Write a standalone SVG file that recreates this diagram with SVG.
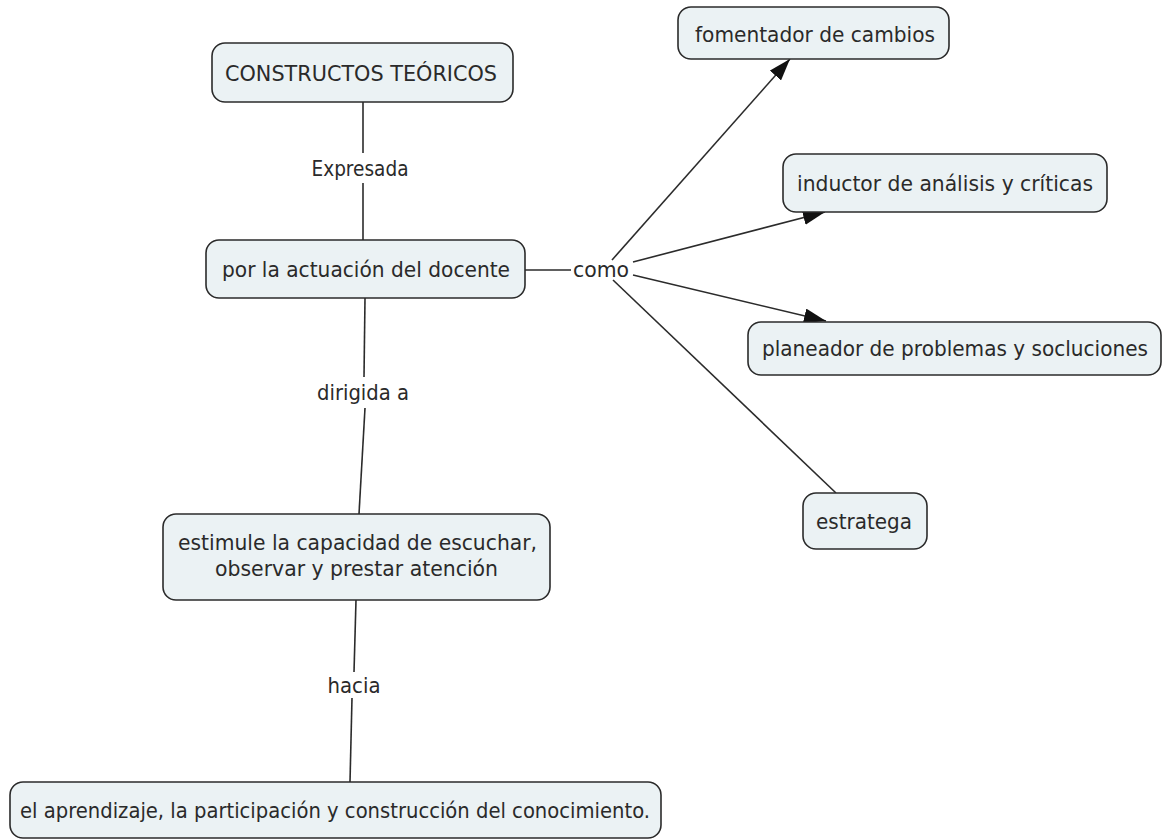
<svg xmlns="http://www.w3.org/2000/svg" width="1163" height="839" viewBox="0 0 1163 839">
<defs>
<style>
.box{fill:#ebf2f4;stroke:#2b2b2b;stroke-width:1.6}
.t{font-family:"DejaVu Sans",Verdana,sans-serif;font-size:21.5px;fill:#2a2a2a;text-anchor:middle}
.s{font-size:20.5px}
.c{stroke:#2b2b2b;stroke-width:1.6;fill:none}
</style>
<marker id="arr" viewBox="0 0 22 15" refX="22" refY="7.5" markerWidth="22" markerHeight="15" markerUnits="userSpaceOnUse" orient="auto">
<path d="M0,0 L22,7.5 L0,15 Z" fill="#111"/>
</marker>
</defs>
<rect width="1163" height="839" fill="#ffffff"/>
<g id="connectors">
<line class="c" x1="363" y1="102" x2="363" y2="153"/>
<line class="c" x1="363" y1="183" x2="363" y2="240"/>
<line class="c" x1="365" y1="298" x2="364" y2="377"/>
<line class="c" x1="365" y1="408" x2="359" y2="514"/>
<line class="c" x1="356" y1="600" x2="354" y2="672"/>
<line class="c" x1="352" y1="698" x2="350" y2="782"/>
<line class="c" x1="525" y1="270" x2="571" y2="270"/>
<line class="c" x1="612" y1="260" x2="790" y2="59" marker-end="url(#arr)"/>
<line class="c" x1="633" y1="262" x2="825" y2="212" marker-end="url(#arr)"/>
<line class="c" x1="633" y1="275" x2="826" y2="321" marker-end="url(#arr)"/>
<line class="c" x1="613" y1="280" x2="836" y2="493"/>
<text class="t" x="360" y="176" textLength="97" lengthAdjust="spacingAndGlyphs">Expresada</text>
<text class="t" x="601" y="277" textLength="56" lengthAdjust="spacingAndGlyphs">como</text>
<text class="t" x="363" y="400" textLength="92" lengthAdjust="spacingAndGlyphs">dirigida a</text>
<text class="t" x="354" y="693" textLength="53" lengthAdjust="spacingAndGlyphs">hacia</text>
</g>
<g id="n1">
<rect class="box" x="212" y="43" width="301" height="59" rx="13"/>
<text class="t" x="361" y="81" textLength="272" lengthAdjust="spacingAndGlyphs">CONSTRUCTOS TEÓRICOS</text>
</g>
<g id="n2">
<rect class="box" x="206" y="240" width="319" height="58" rx="13"/>
<text class="t" x="366" y="277" textLength="288" lengthAdjust="spacingAndGlyphs">por la actuación del docente</text>
</g>
<g id="n3">
<rect class="box" x="678" y="7" width="271" height="52" rx="13"/>
<text class="t" x="815" y="42" textLength="240" lengthAdjust="spacingAndGlyphs">fomentador de cambios</text>
</g>
<g id="n4">
<rect class="box" x="783" y="154" width="324" height="58" rx="13"/>
<text class="t" x="945" y="191" textLength="296" lengthAdjust="spacingAndGlyphs">inductor de análisis y críticas</text>
</g>
<g id="n5">
<rect class="box" x="748" y="322" width="413" height="53" rx="13"/>
<text class="t s" x="955" y="356" textLength="386" lengthAdjust="spacingAndGlyphs">planeador de problemas y socluciones</text>
</g>
<g id="n6">
<rect class="box" x="803" y="493" width="124" height="56" rx="13"/>
<text class="t" x="864" y="529" textLength="96" lengthAdjust="spacingAndGlyphs">estratega</text>
</g>
<g id="n7">
<rect class="box" x="163" y="514" width="387" height="86" rx="13"/>
<text class="t" x="357.5" y="550" textLength="359" lengthAdjust="spacingAndGlyphs">estimule la capacidad de escuchar,</text>
<text class="t" x="356.5" y="576" textLength="283" lengthAdjust="spacingAndGlyphs">observar y prestar atención</text>
</g>
<g id="n8">
<rect class="box" x="10" y="782" width="651" height="56" rx="13"/>
<text class="t" x="335" y="818" textLength="630" lengthAdjust="spacingAndGlyphs">el aprendizaje, la participación y construcción del conocimiento.</text>
</g>
</svg>
